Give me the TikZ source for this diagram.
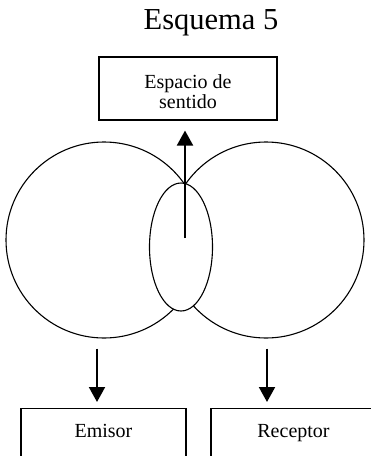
\documentclass[tikz,border=0pt]{standalone}
\usepackage{fontspec}
\setmainfont{Liberation Serif}
\usetikzlibrary{shapes.geometric,arrows.meta}

\begin{document}
\begin{tikzpicture}[x=1pt,y=-1pt,
        box/.style={draw,line width=1.1pt,inner sep=0pt,align=center,font=\fontsize{20}{20}\selectfont},
        ring/.style={draw,circle,line width=1.1pt,minimum size=196pt,inner sep=0pt},
        arr/.style={line width=2pt,-{Triangle[width=16pt,length=15pt]}}]
        \useasboundingbox (0,0) rectangle (371,456);

        \node[font=\fontsize{30.5}{34}\selectfont] (title) at (211,23) {Esquema 5};
        \node[box,minimum width=178pt,minimum height=63pt,text height=40pt,text depth=0pt] (space) at (188,88.5) {Espacio de\\sentido};

        \node[ring] (lc) at (104,240) {};
        \node[ring] (rc) at (266,240) {};
        \node[draw,ellipse,fill=white,line width=1.1pt,inner sep=0pt,
            minimum width=63pt,minimum height=128pt] (mid) at (181,247) {};

        \node[box,anchor=north,minimum width=165pt,inner ysep=9pt,text height=20pt,text depth=30pt] (emi) at (103.5,408) {Emisor};
        \node[box,anchor=north,minimum width=165pt,inner ysep=9pt,text height=20pt,text depth=30pt] (rec) at (293.5,408) {Receptor};

        \coordinate (src) at (185,238);
        \draw[arr,shorten >=10pt] (src) -- (src |- space.south);
        \draw[arr,shorten >=6pt] ([xshift=-7pt,yshift=-10pt]lc.south) -- ([xshift=-7pt]lc.south |- emi.north);
        \draw[arr,shorten >=6pt] ([xshift=1pt,yshift=-10pt]rc.south) -- ([xshift=1pt]rc.south |- rec.north);
    \end{tikzpicture}
\end{document}
